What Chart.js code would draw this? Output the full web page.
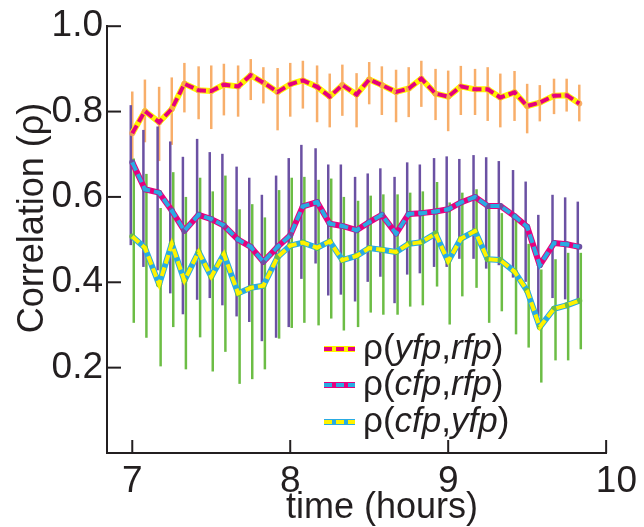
<!DOCTYPE html>
<html>
<head>
<meta charset="utf-8">
<script src="https://cdn.jsdelivr.net/npm/chart.js@4.4.0/dist/chart.umd.min.js"></script>
<style>
  html, body { margin: 0; padding: 0; background: #fff; }
  #wrap { width: 644px; height: 527px; }
</style>
</head>
<body>
<div id="wrap"><canvas id="grafico1" width="644" height="527"></canvas></div>
<script>
// tiempos (horas), un punto cada 5 minutos
const horas = [7.00, 7.08, 7.17, 7.25, 7.33, 7.42, 7.50, 7.58, 7.67, 7.75, 7.83, 7.92,
  8.00, 8.08, 8.17, 8.25, 8.33, 8.42, 8.50, 8.58, 8.67, 8.75, 8.83, 8.92,
  9.00, 9.08, 9.17, 9.25, 9.33, 9.42, 9.50, 9.58, 9.67, 9.75, 9.83];

// rho(yfp,rfp)
const yfpRfp = [0.749, 0.801, 0.775, 0.806, 0.865, 0.850, 0.848, 0.863, 0.859, 0.885, 0.868, 0.846,
  0.864, 0.873, 0.858, 0.835, 0.862, 0.840, 0.875, 0.862, 0.846, 0.854, 0.877, 0.842,
  0.835, 0.859, 0.852, 0.852, 0.833, 0.845, 0.813, 0.821, 0.837, 0.838, 0.819];
const yfpRfpHi = [0.847, 0.875, 0.858, 0.880, 0.914, 0.906, 0.908, 0.912, 0.908, 0.923, 0.904, 0.902,
  0.914, 0.919, 0.908, 0.889, 0.910, 0.890, 0.916, 0.906, 0.898, 0.904, 0.919, 0.900,
  0.896, 0.907, 0.900, 0.904, 0.889, 0.895, 0.865, 0.862, 0.877, 0.877, 0.863];
const yfpRfpLo = [0.687, 0.728, 0.684, 0.722, 0.798, 0.782, 0.759, 0.791, 0.788, 0.827, 0.819, 0.756,
  0.788, 0.807, 0.775, 0.763, 0.790, 0.763, 0.817, 0.792, 0.775, 0.787, 0.811, 0.780,
  0.754, 0.792, 0.792, 0.778, 0.763, 0.778, 0.749, 0.777, 0.794, 0.800, 0.777];

// rho(cfp,rfp)
const cfpRfp = [0.681, 0.618, 0.610, 0.568, 0.521, 0.558, 0.548, 0.533, 0.500, 0.483, 0.448, 0.483,
  0.510, 0.578, 0.588, 0.537, 0.532, 0.522, 0.541, 0.558, 0.514, 0.560, 0.562, 0.566,
  0.571, 0.587, 0.600, 0.579, 0.579, 0.555, 0.530, 0.440, 0.492, 0.489, 0.483];
const cfpRfpHi = [0.815, 0.757, 0.765, 0.730, 0.694, 0.736, 0.705, 0.701, 0.671, 0.645, 0.605, 0.650,
  0.691, 0.722, 0.714, 0.676, 0.676, 0.647, 0.655, 0.667, 0.647, 0.681, 0.676, 0.691,
  0.695, 0.689, 0.698, 0.693, 0.684, 0.663, 0.636, 0.558, 0.605, 0.599, 0.589];
const cfpRfpLo = [0.487, 0.436, 0.428, 0.374, 0.325, 0.359, 0.363, 0.346, 0.320, 0.307, 0.262, 0.270,
  0.295, 0.408, 0.444, 0.369, 0.371, 0.355, 0.401, 0.413, 0.351, 0.418, 0.421, 0.436,
  0.436, 0.455, 0.455, 0.432, 0.440, 0.411, 0.401, 0.320, 0.363, 0.360, 0.355];

// rho(cfp,yfp)
const cfpYfp = [0.507, 0.481, 0.395, 0.490, 0.404, 0.471, 0.413, 0.466, 0.374, 0.387, 0.392, 0.459,
  0.486, 0.493, 0.481, 0.496, 0.452, 0.462, 0.480, 0.476, 0.471, 0.490, 0.494, 0.514,
  0.449, 0.502, 0.520, 0.454, 0.452, 0.425, 0.380, 0.295, 0.338, 0.346, 0.357];
const cfpYfpHi = [0.690, 0.654, 0.574, 0.658, 0.600, 0.645, 0.613, 0.650, 0.571, 0.583, 0.552, 0.616,
  0.645, 0.647, 0.640, 0.643, 0.600, 0.591, 0.603, 0.606, 0.606, 0.610, 0.613, 0.635,
  0.587, 0.610, 0.618, 0.575, 0.562, 0.548, 0.490, 0.430, 0.454, 0.469, 0.469];
const cfpYfpLo = [0.305, 0.270, 0.203, 0.295, 0.196, 0.271, 0.191, 0.237, 0.162, 0.173, 0.196, 0.268,
  0.293, 0.305, 0.299, 0.315, 0.287, 0.295, 0.329, 0.324, 0.324, 0.343, 0.346, 0.390,
  0.301, 0.367, 0.387, 0.305, 0.332, 0.278, 0.247, 0.165, 0.217, 0.217, 0.243];

const marcasX = [7, 8, 9, 10];
const marcasY = [0.2, 0.4, 0.6, 0.8, 1.0];

const MAGENTA = "#e6007e";
const AMARILLO = "#fff200";
const CIAN = "#29abe2";
const NARANJA = "rgba(247, 160, 80, 0.85)";
const MORADO = "#6b51a3";
const VERDE = "#6cbd45";
const TINTA = "#231f20";
const FUENTE = "'Liberation Sans', Arial, Helvetica, sans-serif";

const errores = [
  { hi: yfpRfpHi, lo: yfpRfpLo, color: NARANJA, dx: 0 },
  { hi: cfpRfpHi, lo: cfpRfpLo, color: MORADO, dx: -1.5 },
  { hi: cfpYfpHi, lo: cfpYfpLo, color: VERDE, dx: 1.5 },
];

const puntos = (valores) => valores.map((v, i) => ({ x: horas[i], y: v }));

function base(valores, color, colorPunto, orden) {
  return {
    data: puntos(valores),
    borderColor: color,
    borderWidth: 6,
    borderJoinStyle: "round",
    pointRadius: 3,
    pointBackgroundColor: colorPunto,
    pointBorderWidth: 0,
    tension: 0,
    order: orden,
  };
}

function guiones(valores, color, orden) {
  return {
    data: puntos(valores),
    borderColor: color,
    borderWidth: 4,
    borderDash: [9, 4],
    pointRadius: 0,
    tension: 0,
    order: orden,
  };
}

const barrasError = {
  id: "barrasError",
  beforeDatasetsDraw(chart) {
    const { ctx, scales: { x, y } } = chart;
    ctx.save();
    ctx.lineWidth = 2.5;
    errores.forEach((s) => {
      ctx.strokeStyle = s.color;
      horas.forEach((h, i) => {
        const px = x.getPixelForValue(h) + s.dx;
        ctx.beginPath();
        ctx.moveTo(px, y.getPixelForValue(s.lo[i]));
        ctx.lineTo(px, y.getPixelForValue(s.hi[i]));
        ctx.stroke();
      });
    });
    ctx.restore();
  },
};

const extras = {
  id: "extras",
  afterDraw(chart) {
    const { ctx, scales: { x, y }, chartArea: a } = chart;
    ctx.save();
    // marcas hacia dentro
    ctx.strokeStyle = TINTA;
    ctx.lineWidth = 2;
    marcasX.forEach((v) => {
      const px = x.getPixelForValue(v);
      ctx.beginPath();
      ctx.moveTo(px, a.bottom);
      ctx.lineTo(px, a.bottom - 13);
      ctx.stroke();
    });
    marcasY.forEach((v) => {
      const py = y.getPixelForValue(v);
      ctx.beginPath();
      ctx.moveTo(a.left, py);
      ctx.lineTo(a.left + 14, py);
      ctx.stroke();
    });

    // titulos de ejes
    ctx.fillStyle = TINTA;
    ctx.font = "36px " + FUENTE;
    ctx.textAlign = "center";
    ctx.textBaseline = "alphabetic";
    ctx.fillText("time (hours)", 382, 518);
    ctx.save();
    ctx.translate(43, 218);
    ctx.rotate(-Math.PI / 2);
    ctx.fillText("Correlation (\u03c1)", 0, 0);
    ctx.restore();

    // leyenda
    const filas = [
      { y: 349, fondo: AMARILLO, frente: MAGENTA, partes: ["\u03c1(", "yfp", ",", "rfp", ")"] },
      { y: 385, fondo: MAGENTA, frente: CIAN, partes: ["\u03c1(", "cfp", ",", "rfp", ")"] },
      { y: 422, fondo: CIAN, frente: AMARILLO, partes: ["\u03c1(", "cfp", ",", "yfp", ")"] },
    ];
    ctx.textAlign = "left";
    filas.forEach((f) => {
      ctx.lineWidth = 6;
      ctx.strokeStyle = f.fondo;
      ctx.setLineDash([]);
      ctx.beginPath();
      ctx.moveTo(324, f.y);
      ctx.lineTo(355, f.y);
      ctx.stroke();
      ctx.lineWidth = 4;
      ctx.strokeStyle = f.frente;
      ctx.setLineDash([8, 4]);
      ctx.beginPath();
      ctx.moveTo(324, f.y);
      ctx.lineTo(355, f.y);
      ctx.stroke();
      ctx.setLineDash([]);
      let tx = 363;
      f.partes.forEach((p, k) => {
        ctx.font = (k % 2 === 1 ? "italic " : "") + "35px " + FUENTE;
        ctx.fillText(p, tx, f.y + 10);
        tx += ctx.measureText(p).width;
      });
    });
    ctx.restore();
  },
};

const ctx = document.getElementById("grafico1").getContext("2d");
new Chart(ctx, {
  type: "line",
  data: {
    datasets: [
      guiones(cfpYfp, AMARILLO, 1),
      base(cfpYfp, CIAN, VERDE, 2),
      guiones(cfpRfp, CIAN, 3),
      base(cfpRfp, MAGENTA, MORADO, 4),
      guiones(yfpRfp, MAGENTA, 5),
      base(yfpRfp, AMARILLO, NARANJA, 6),
    ],
  },
  options: {
    responsive: false,
    animation: false,
    layout: { padding: { top: 22, right: 30, left: 0, bottom: 0 } },
    plugins: { legend: { display: false }, tooltip: { enabled: false } },
    scales: {
      x: {
        type: "linear",
        min: 6.84,
        max: 10,
        afterBuildTicks: (s) => { s.ticks = marcasX.map((v) => ({ value: v })); },
        afterFit: (s) => { s.height = 74; },
        grid: { display: false, drawTicks: false },
        border: { display: true, color: TINTA, width: 2 },
        ticks: {
          color: TINTA,
          padding: 7,
          maxRotation: 0,
          font: { family: FUENTE, size: 37 },
          callback: (v) => (v === 10 ? "  10" : String(v)),
        },
      },
      y: {
        min: 0,
        max: 1,
        afterBuildTicks: (s) => { s.ticks = marcasY.map((v) => ({ value: v })); },
        afterFit: (s) => { s.width = 107; },
        grid: { display: false, drawTicks: false },
        border: { display: true, color: TINTA, width: 2 },
        ticks: {
          color: TINTA,
          padding: 4,
          font: { family: FUENTE, size: 37 },
          callback: (v) => v.toFixed(1),
        },
      },
    },
  },
  plugins: [barrasError, extras],
});
</script>
</body>
</html>
